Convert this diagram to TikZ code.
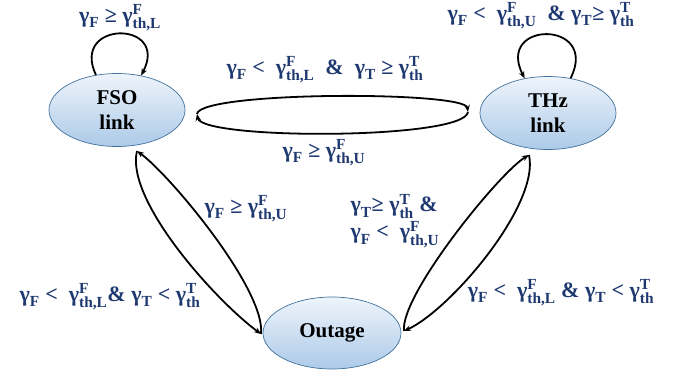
\documentclass[tikz,border=0pt]{standalone}
\usepackage{fontspec}
\usepackage{amsmath}
\setmainfont{Liberation Serif}
\usetikzlibrary{shapes.geometric,arrows.meta}
\definecolor{labblue}{RGB}{30,56,112}
\definecolor{ellborder}{RGB}{65,113,156}
\definecolor{elltop}{RGB}{238,244,251}
\definecolor{ellbot}{RGB}{172,202,232}
\newcommand{\gmA}[1]{$\text{γ}_{\text{#1}}$}
\newcommand{\gmB}[2]{$\text{γ}^{\text{#1}}_{\text{th,#2}}$}
\newcommand{\gmC}{$\text{γ}^{\text{T}}_{\text{th}}$}
\begin{document}
\begin{tikzpicture}[x=1pt,y=-1pt,
  state/.style={ellipse, draw=ellborder, line width=0.7pt, top color=elltop, bottom color=ellbot,
    minimum width=136pt, minimum height=73pt, inner sep=0pt, align=center,
    font=\bfseries\fontsize{21}{25}\selectfont},
  lab/.style={text=labblue, font=\bfseries\fontsize{22}{27}\selectfont, inner sep=0pt},
  arr/.style={-{Stealth[length=7pt,width=5.5pt]}, line width=1.8pt}]
\useasboundingbox (0,0) rectangle (689,370);

% states
\node[state] (fso) at (117,110) {FSO\\link};
\node[state] (thz) at (548,113) {THz\\link};
\node[state, minimum width=138pt, minimum height=72pt] (out) at (332,333) {Outage};

% tips of the lens-shaped pairs
\coordinate (ftip) at (197,114);
\coordinate (ttip) at (468,112);
\coordinate (fb) at (137,151);
\coordinate (ol) at (261,334);
\coordinate (tb) at (529,155);
\coordinate (orr) at (404,331);

% self loops
\draw[arr] (fso.121) .. controls (70,20) and (170,20) .. (fso.55);
\draw[arr] (thz.57) .. controls (600,20) and (495,20) .. (thz.124);

% FSO <-> THz
\draw[arr] (ftip) .. controls (200,91) and (465,91) .. (ttip);
\draw[arr] (ttip) .. controls (464,140) and (202,140) .. (ftip);

% FSO <-> Outage
\draw[arr] (fb) .. controls (125,200) and (215,300) .. (ol);
\draw[arr] (ol) .. controls (266,290) and (170,175) .. (fb);

% THz <-> Outage
\draw[arr] (orr) .. controls (400,295) and (500,172) .. (tb);
\draw[arr] (tb) .. controls (540,205) and (450,310) .. (orr);

% labels
\node[lab] (l1) at (120,18) {\gmA{F} ≥ \gmB{F}{L}};
\node[lab] (l2) at (541,16) {\gmA{F} <~ \gmB{F}{U} ~\& \gmA{T}≥ \gmC};
\node[lab] (l3) at (325,70) {\gmA{F} <~ \gmB{F}{L} ~\&~ \gmA{T} ≥ \gmC};
\node[lab] (l4) at (324,153) {\gmA{F} ≥ \gmB{F}{U}};
\node[lab] (l5) at (246,209) {\gmA{F} ≥ \gmB{F}{U}};
\node[lab] (l6) at (110,297) {\gmA{F} <~ \gmB{F}{L}\& \gmA{T} < \gmC};
\node[lab, align=left] (l7) at (395,221) {\gmA{T}≥ \gmC{} \&\\ \gmA{F} <~ \gmB{F}{U}};
\node[lab] (l8) at (561,293) {\gmA{F} <~ \gmB{F}{L} \& \gmA{T} < \gmC};
\end{tikzpicture}
\end{document}
